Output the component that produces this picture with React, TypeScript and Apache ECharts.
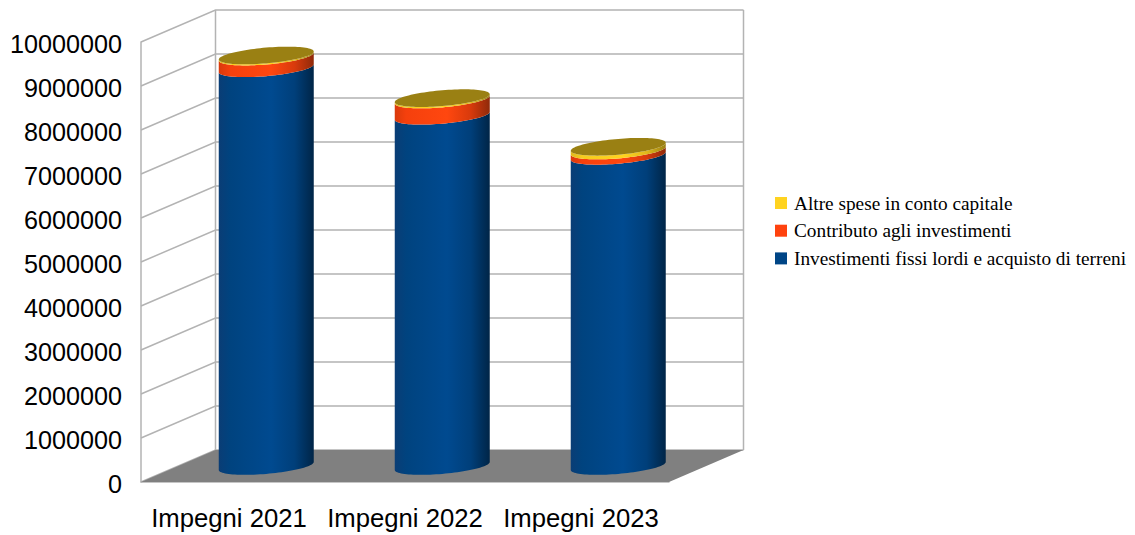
import React, { useEffect, useRef } from "react";
import * as echarts from "echarts";

const categories = ["Impegni 2021", "Impegni 2022", "Impegni 2023"];
const investimenti = [9040000, 7960000, 7050000];
const contributo = [265000, 370000, 120000];
const altre = [25000, 30000, 85000];
const yTicks = [0, 1000000, 2000000, 3000000, 4000000, 5000000, 6000000, 7000000, 8000000, 9000000, 10000000];

const DEPTH_X = 74.5;
const DEPTH_Y = -32;
const GRID = { left: 141, top: 42, width: 528, height: 440 };
const GREY = "#b3b3b3";
const HALF_W = 47.5;
const SLOPE = -4;
const MINOR = 7.9;

function sideGradient(kind: string) {
  const stops: Record<string, string[]> = {
    blue: ["#0a3d75", "#00437f", "#004a90", "#003f7a", "#002547"],
    red: ["#d93a0c", "#f5400d", "#ff470f", "#d83a0c", "#8f2a0a"],
    yellow: ["#e0b81c", "#f5cc1e", "#ffd320", "#e0b81c", "#9a8012"],
  };
  const c = stops[kind];
  return new echarts.graphic.LinearGradient(0, 0, 1, 0, [
    { offset: 0, color: c[0] },
    { offset: 0.12, color: c[1] },
    { offset: 0.55, color: c[2] },
    { offset: 0.8, color: c[3] },
    { offset: 1, color: c[4] },
  ]);
}

function ellipsePt(cx: number, cy: number, t: number): number[] {
  return [cx + HALF_W * Math.cos(t), cy + SLOPE * Math.cos(t) + MINOR * Math.sin(t)];
}

function cylinderSegment(kind: string, isTop: boolean) {
  return (_params: any, api: any) => {
    const cat = api.value(0);
    const low = api.coord([cat, api.value(1)]);
    const high = api.coord([cat, api.value(2)]);
    const cx = low[0] + DEPTH_X / 2;
    const yLow = low[1] + DEPTH_Y / 2;
    const yHigh = high[1] + DEPTH_Y / 2;
    const N = 48;
    const pts: number[][] = [];
    for (let i = 0; i <= N; i++) pts.push(ellipsePt(cx, yLow, Math.PI - (Math.PI * i) / N));
    for (let i = 0; i <= N; i++) pts.push(ellipsePt(cx, yHigh, (Math.PI * i) / N));
    const children: any[] = [
      { type: "polygon", shape: { points: pts }, style: { fill: sideGradient(kind) } },
    ];
    if (isTop) {
      const cap: number[][] = [];
      for (let i = 0; i < 96; i++) cap.push(ellipsePt(cx, yHigh, (2 * Math.PI * i) / 96));
      children.push({ type: "polygon", shape: { points: cap }, style: { fill: "#9a8013" } });
    }
    return { type: "group", children };
  };
}

function renderRoom(_params: any, api: any) {
  const x0 = GRID.left;
  const x1 = GRID.left + GRID.width;
  const lineStyle = { stroke: GREY, lineWidth: 1.5, fill: "none" };
  const bottom = api.coord([0, 0])[1];
  const top = api.coord([0, yTicks[yTicks.length - 1]])[1];
  const children: any[] = [];
  yTicks.forEach((v) => {
    const y = api.coord([0, v])[1];
    children.push({
      type: "polyline",
      shape: { points: [[x0, y], [x0 + DEPTH_X, y + DEPTH_Y], [x1 + DEPTH_X, y + DEPTH_Y]] },
      style: lineStyle,
    });
  });
  children.push({
    type: "line",
    shape: { x1: x0 + DEPTH_X, y1: top + DEPTH_Y, x2: x0 + DEPTH_X, y2: bottom + DEPTH_Y },
    style: lineStyle,
  });
  children.push({
    type: "line",
    shape: { x1: x1 + DEPTH_X, y1: top + DEPTH_Y, x2: x1 + DEPTH_X, y2: bottom + DEPTH_Y },
    style: lineStyle,
  });
  children.push({
    type: "polygon",
    shape: {
      points: [
        [x0, bottom],
        [x1, bottom],
        [x1 + DEPTH_X, bottom + DEPTH_Y],
        [x0 + DEPTH_X, bottom + DEPTH_Y],
      ],
    },
    style: { fill: "#808080" },
  });
  return { type: "group", children };
}

export default function App() {
  const ref = useRef<HTMLDivElement>(null);
  useEffect(() => {
    const chart = echarts.init(ref.current!, null, { renderer: "svg" });
    const stackData = (vals: number[], below: number[]) =>
      vals.map((v, i) => [i, below[i], below[i] + v]);
    const base1 = investimenti;
    const base2 = investimenti.map((v, i) => v + contributo[i]);
    const common = {
      type: "custom" as const,
      coordinateSystem: "cartesian2d",
      clip: false,
      silent: true,
    };
    chart.setOption({
      animation: false,
      backgroundColor: "#ffffff",
      grid: { ...GRID, containLabel: false },
      legend: {
        show: true,
        orient: "vertical",
        left: 770,
        top: 188.5,
        itemWidth: 12,
        itemHeight: 12,
        itemGap: 8.7,
        icon: "rect",
        selectedMode: false,
        data: ["Altre spese in conto capitale", "Contributo agli investimenti", "Investimenti fissi lordi e acquisto di terreni"],
        textStyle: { fontFamily: "Liberation Serif", fontSize: 19.3, color: "#000000", padding: [0, 0, 0, 2] },
      },
      xAxis: {
        type: "category",
        data: categories,
        axisLine: { show: true, lineStyle: { color: GREY, width: 1.5 } },
        axisTick: { show: false },
        axisLabel: { fontFamily: "Liberation Sans", fontSize: 25.7, color: "#000000", margin: 23, interval: 0 },
        splitLine: { show: false },
      },
      yAxis: {
        type: "value",
        min: 0,
        max: 10000000,
        interval: 1000000,
        axisLine: { show: true, lineStyle: { color: GREY, width: 1.5 } },
        axisTick: { show: false },
        splitLine: { show: false },
        axisLabel: {
          color: "#000000",
          margin: 19,
          formatter: (v: number) => `{v|${v}}`,
          rich: {
            v: {
              fontFamily: "Liberation Sans",
              fontSize: 25.2,
              color: "#000000",
              padding: [4, 0, 0, 0],
            },
          },
        },
      },
      series: [
        { ...common, name: "room", z: 1, data: [[0]], renderItem: renderRoom, encode: { x: 0 } },
        {
          ...common,
          name: "Investimenti fissi lordi e acquisto di terreni",
          z: 2,
          itemStyle: { color: "#004586" },
          data: stackData(investimenti, investimenti.map(() => 0)),
          encode: { x: 0, y: [1, 2] },
          renderItem: cylinderSegment("blue", false),
        },
        {
          ...common,
          name: "Contributo agli investimenti",
          z: 3,
          itemStyle: { color: "#ff420e" },
          data: stackData(contributo, base1),
          encode: { x: 0, y: [1, 2] },
          renderItem: cylinderSegment("red", false),
        },
        {
          ...common,
          name: "Altre spese in conto capitale",
          z: 4,
          itemStyle: { color: "#ffd320" },
          data: stackData(altre, base2),
          encode: { x: 0, y: [1, 2] },
          renderItem: cylinderSegment("yellow", true),
        },
      ],
    });
    return () => chart.dispose();
  }, []);
  return <div ref={ref} style={{ position: "fixed", left: 0, top: 0, width: 1135, height: 535 }} />;
}
